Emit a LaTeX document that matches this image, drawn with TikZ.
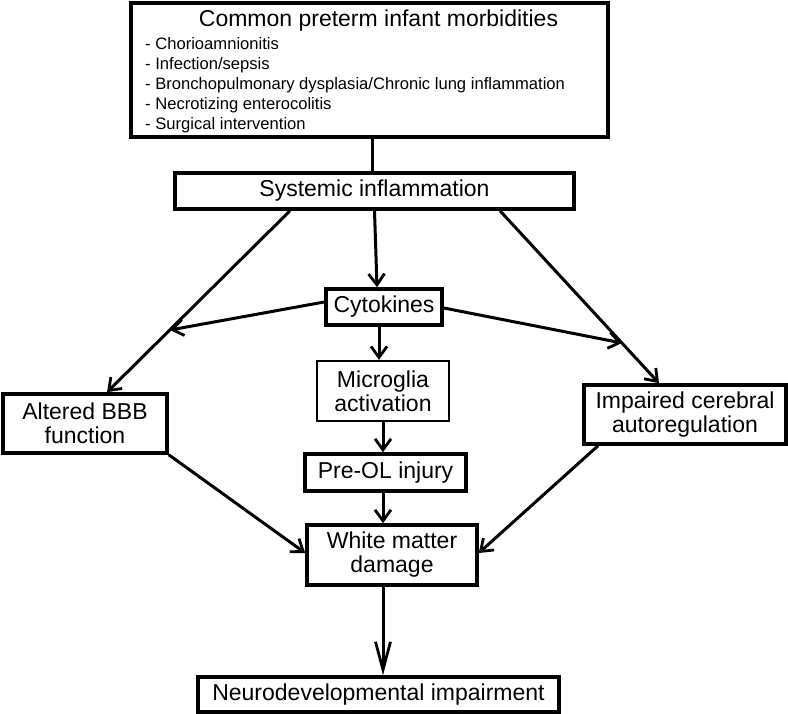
\documentclass[tikz,border=0pt]{standalone}
\usepackage{fontspec}
\setmainfont{Liberation Sans}
\usetikzlibrary{arrows.meta}
\begin{document}
\begin{tikzpicture}[x=1pt,y=-1pt,
  box/.style={draw, line width=3.6pt, inner sep=0pt, align=center, font=\fontsize{23}{24}\selectfont},
  conn/.style={line width=3pt},
  arr/.style={conn, -{Straight Barb[length=11pt,width=16pt,line width=2.8pt]}},
  longarr/.style={conn, -{Straight Barb[length=28pt,width=15pt,line width=2.8pt]}},
]
\useasboundingbox (0,0) rectangle (788,714);
% top box
\node[box, minimum width=477pt, minimum height=134pt] (morb) at (369.5,70) {};
\node[anchor=base, font=\fontsize{23}{24}\selectfont] (morbt) at (378.5,27) {Common preterm infant morbidities};
\foreach \t [count=\i] in {Chorioamnionitis, Infection/sepsis, Bronchopulmonary dysplasia/Chronic lung inflammation, Necrotizing enterocolitis, Surgical intervention}
  \node[anchor=base west, inner sep=0pt, font=\fontsize{16.6}{20}\selectfont] (m\i) at (145,30+20*\i) {- \t};
% boxes
\node[box, minimum width=399pt, minimum height=36pt] (sys) at (374.5,191) {\raisebox{-2pt}{Systemic inflammation}};
\node[box, minimum width=116pt, minimum height=36pt] (cyto) at (384,307) {Cytokines};
\node[box, line width=2.4pt, minimum width=132pt, minimum height=60pt] (micro) at (383,391) {Microglia\\activation};
\node[box, minimum width=161pt, minimum height=37pt] (preol) at (385.5,472.5) {Pre-OL injury};
\node[box, minimum width=170pt, minimum height=60pt] (wm) at (392,555) {White matter\\damage};
\node[box, minimum width=361pt, minimum height=35pt] (neuro) at (378.5,694.5) {Neurodevelopmental impairment};
\node[box, minimum width=164pt, minimum height=59pt] (bbb) at (85,423.5) {Altered BBB\\function};
\node[box, minimum width=202pt, minimum height=59pt] (imp) at (685,414.5) {Impaired cerebral\\autoregulation};
% junction points on the diagonal arrows
\coordinate (cl) at (170,330);
\coordinate (cr) at (622,343);
% connectors
\draw[conn] ([xshift=2.5pt]morb.south) -- ([xshift=-2.5pt]sys.north);
\draw[arr] ([xshift=-84.5pt]sys.south) -- ([xshift=22pt]bbb.north);
\draw[arr] ([xshift=125.5pt]sys.south) -- ([xshift=-26pt]imp.north);
\draw[arr] (sys.south) -- ([xshift=-7pt]cyto.north);
\draw[arr] ([yshift=5pt]cyto.west) -- (cl);
\draw[arr] ([yshift=-1pt]cyto.east) -- (cr);
\draw[arr] ([xshift=-5pt]cyto.south) -- ([xshift=-4pt]micro.north);
\draw[arr] (micro.south) -- ([xshift=-2.5pt]preol.north);
\draw[arr] ([xshift=-2.5pt]preol.south) -- ([xshift=-9pt]wm.north);
\draw[arr] (bbb.south east) -- ([yshift=2pt]wm.west);
\draw[arr] ([xshift=-87pt]imp.south) -- ([yshift=2pt]wm.east);
\draw[longarr] ([xshift=-9pt]wm.south) -- ([xshift=4.5pt]neuro.north);
\end{tikzpicture}
\end{document}
